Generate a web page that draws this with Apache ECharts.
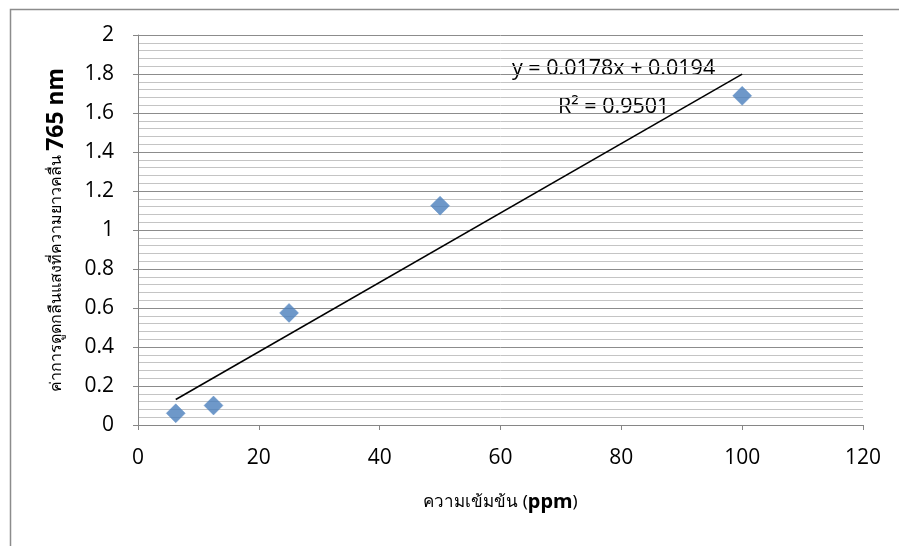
<!DOCTYPE html>
<html><head><meta charset="utf-8">
<script src="https://cdn.jsdelivr.net/npm/echarts@6/dist/echarts.min.js"></script>
<style>html,body{margin:0;padding:0;background:#fff}#c{width:899px;height:546px}</style>
</head><body><div id="c"></div>
<script>
const xValues = [6.25, 12.5, 25, 50, 100];
const yValues = [0.06, 0.10, 0.575, 1.125, 1.688];
const slope = 0.0178, intercept = 0.0194;
const trendX = [6.25, 100];
const eqText = 'y = 0.0178x + 0.0194';
const r2Text = 'R² = 0.9501';

const chart = echarts.init(document.getElementById('c'));
const font = '"Open Sans", "Noto Sans", sans-serif';
chart.setOption({
  animation: false,
  backgroundColor: '#fff',
  grid: {left: 138, right: 36, top: 35, bottom: 121},
  xAxis: {
    type: 'value', min: 0, max: 120, interval: 20,
    axisLine: {show: true, lineStyle: {color: '#868686', width: 1}},
    axisTick: {show: true, length: 5, lineStyle: {color: '#868686'}},
    axisLabel: {color: '#000', fontSize: 21, fontFamily: font, margin: 23},
    splitLine: {show: false},
    name: '{t|ความเข้มข้น (}{b|ppm}{t|)}',
    nameLocation: 'middle', nameGap: 67,
    nameTextStyle: {rich: {
      t: {fontSize: 17, fontFamily: '"Noto Sans", sans-serif', color: '#000'},
      b: {fontSize: 20, fontWeight: 'bold', fontFamily: '"Noto Sans", sans-serif', color: '#000'}
    }}
  },
  yAxis: {
    type: 'value', min: 0, max: 2, interval: 0.2,
    axisLine: {show: true, lineStyle: {color: '#868686', width: 1}},
    axisTick: {show: true, length: 5, lineStyle: {color: '#868686'}},
    axisLabel: {color: '#000', fontSize: 21, fontFamily: font, margin: 24},
    splitLine: {show: true, lineStyle: {color: '#8c8c8c', width: 1}},
    minorTick: {show: false, splitNumber: 5},
    minorSplitLine: {show: true, lineStyle: {color: '#c4c4c4', width: 1}},
    name: '{t|ค่าการดูดกลืนแสงที่ความยาวคลื่น }{b|765 nm}',
    nameLocation: 'middle', nameGap: 70, nameRotate: 90,
    nameTextStyle: {rich: {
      t: {fontSize: 16, fontFamily: '"Noto Sans", sans-serif', color: '#000'},
      b: {fontSize: 23, fontWeight: 'bold', fontFamily: '"Noto Sans", sans-serif', color: '#000'}
    }}
  },
  graphic: [
    {type: 'rect', left: 8, top: 7, shape: {width: 905, height: 560},
     style: {fill: 'none', stroke: '#8c8c8c', lineWidth: 1.5}, silent: true},
    {type: 'text', x: 512, y: 69, style: {text: eqText, fontSize: 21.5, fontFamily: font, fill: '#000', verticalAlign: 'middle'}},
    {type: 'text', x: 558, y: 107, style: {text: r2Text, fontSize: 21.5, fontFamily: font, fill: '#000', verticalAlign: 'middle'}}
  ],
  series: [
    {type: 'line', data: trendX.map(x => [x, slope * x + intercept]), symbol: 'none',
     lineStyle: {color: '#000', width: 1.5}, z: 3},
    {type: 'scatter', data: xValues.map((x, i) => [x, yValues[i]]), symbol: 'diamond', symbolSize: 19,
     itemStyle: {color: '#4a7ebb', borderColor: '#5b8cc6', borderWidth: 0.5}, z: 4}
  ]
});
</script></body></html>
